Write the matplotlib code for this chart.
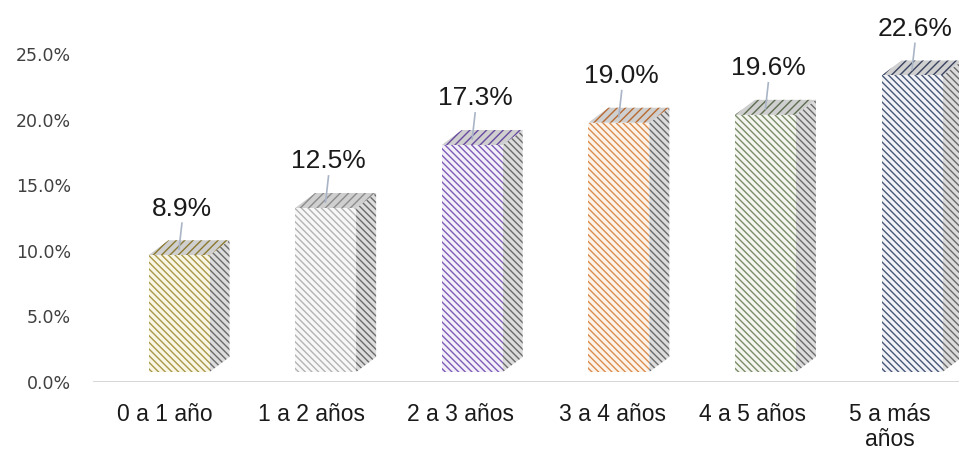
import matplotlib
matplotlib.use("Agg")
import matplotlib.pyplot as plt
from matplotlib.patches import Polygon
import numpy as np

categories = ["0 a 1 año", "1 a 2 años", "2 a 3 años", "3 a 4 años", "4 a 5 años", "5 a más\naños"]
values = [8.9, 12.5, 17.3, 19.0, 19.6, 22.6]
value_labels = ["8.9%", "12.5%", "17.3%", "19.0%", "19.6%", "22.6%"]
ytick_vals = [0, 5, 10, 15, 20, 25]
ytick_labels = ["0.0%", "5.0%", "10.0%", "15.0%", "20.0%", "25.0%"]
colors = ["#a89848", "#b4b4b4", "#7e5cb8", "#dc8c4c", "#7a8c6a", "#485678"]
front_fill = ["#f9f6e6", "#f8f8f8", "#f4f0fa", "#fcf3ea", "#f4f6ef", "#f1f3f7"]
top_colors = ["#8a7a30", "#8c8c8c", "#6a4aa0", "#b86a30", "#5e6e50", "#3a4460"]

W, H, DPI = 959, 467, 100
fig = plt.figure(figsize=(W / DPI, H / DPI), dpi=DPI)

# axes geometry in pixels
x_left_px, x0_px, x_step_px = 93, 179, 146.6
y0_px, y_step_px = 382, 13.12  # px per percent
ax = fig.add_axes([x_left_px / W, (H - y0_px) / H, (W - x_left_px) / W, y0_px / H])
ax.set_xlim((x_left_px - x0_px) / x_step_px, (W - x0_px) / x_step_px)
ax.set_ylim(0, y0_px / y_step_px)

plt.rcParams["hatch.linewidth"] = 1.0

# 3D styling parameters
front_w = 61 / x_step_px
depth_x = 20 / x_step_px
depth_y = 15 / y_step_px
floor = 10 / y_step_px
x = np.arange(len(categories))
label_shift = np.array([-14, -14, -12, -6, -13, -22]) / x_step_px

fronts = ax.bar(x, values, width=front_w, bottom=floor, linewidth=0, zorder=3)
for i, (rect, v) in enumerate(zip(fronts, values)):
    rect.set_facecolor(front_fill[i])
    rect.set_hatch("\\" * 5)
    rect.set_edgecolor(colors[i])
    x1 = x[i] + front_w / 2
    xl = x[i] - front_w / 2
    ytop = v + floor
    side = Polygon([(x1, floor), (x1 + depth_x, floor + depth_y),
                    (x1 + depth_x, ytop + depth_y), (x1, ytop)],
                   closed=True, facecolor="#dcdcdc", edgecolor="#6a6a6a",
                   linewidth=0, hatch="\\" * 5, zorder=2)
    ax.add_patch(side)
    top = Polygon([(xl, ytop), (x1, ytop), (x1 + depth_x, ytop + depth_y),
                   (xl + depth_x, ytop + depth_y)],
                  closed=True, facecolor="#cfcfcf", edgecolor=top_colors[i],
                  linewidth=0, hatch="/" * 4, zorder=2)
    ax.add_patch(top)
    # label and leader line
    ly = ytop + depth_y + 1.5
    ax.plot([x[i] + 0.02, x[i] + 0.0], [ly - 0.2, ytop + depth_y * 0.4],
            color="#a9b4c6", lw=1.2, zorder=4)
    ax.text(x[i] + 0.02, ly, value_labels[i], ha="center", va="bottom",
            fontsize=19, color="#1a1a1a",
            family=["Liberation Sans", "DejaVu Sans"], zorder=5)

ax.axhline(0, color="#d0d0d0", lw=1.2, zorder=1)
for s in ax.spines.values():
    s.set_visible(False)
ax.set_yticks(ytick_vals)
ax.set_yticklabels(ytick_labels, fontsize=12.5, color="#404040", family=["DejaVu Sans"])
ax.set_xticks(x + label_shift)
ax.set_xticklabels(categories, fontsize=16.5, color="#1a1a1a",
                   family=["Liberation Sans", "DejaVu Sans"],
                   va="top", linespacing=1.1)
ax.tick_params(axis="both", length=0)
ax.tick_params(axis="y", pad=16)
ax.tick_params(axis="x", pad=15)

fig.savefig("out.png", dpi=DPI)
